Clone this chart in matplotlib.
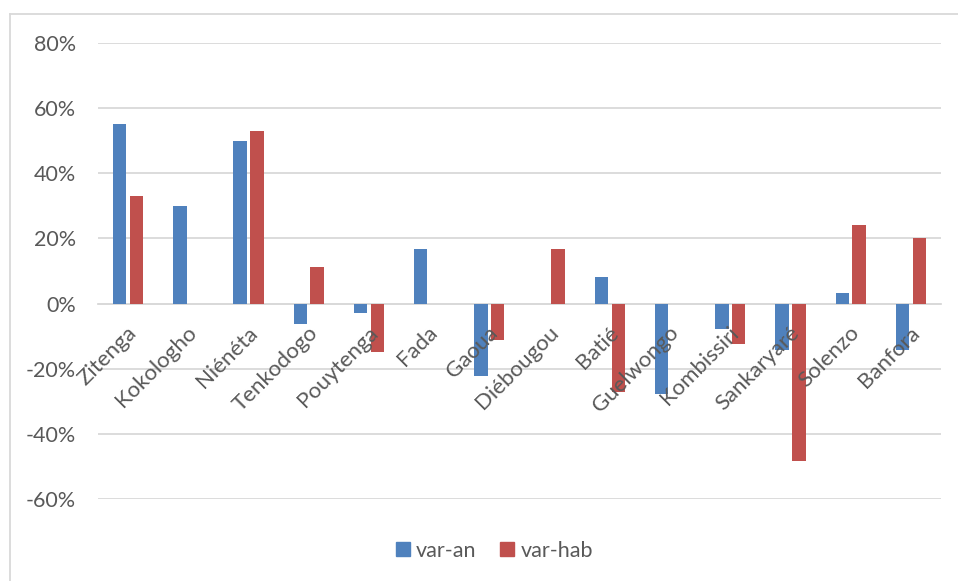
import numpy as np
import matplotlib
matplotlib.use('Agg')
import matplotlib.pyplot as plt
from matplotlib.ticker import FuncFormatter
from matplotlib.transforms import ScaledTranslation
from matplotlib.lines import Line2D
from matplotlib.patches import Patch

plt.rcParams['font.family'] = ['Lato', 'DejaVu Sans']

communes = ['Zitenga', 'Kokologho', 'Niénéta', 'Tenkodogo', 'Pouytenga', 'Fada',
            'Gaoua', 'Diébougou', 'Batié', 'Guelwongo', 'Kombissiri', 'Sankaryaré',
            'Solenzo', 'Banfora']
var_an = [0.55, 0.30, 0.50, -0.061, -0.029, 0.167, -0.221, 0.0, 0.081, -0.276,
          -0.079, -0.142, 0.033, -0.142]
var_hab = [0.33, 0.0, 0.529, 0.112, -0.149, 0.0, -0.112, 0.167, -0.272, 0.0,
           -0.124, -0.484, 0.24, 0.20]

blue, red = '#4f81bd', '#c0504d'
grey_txt = '#595959'
grid_c = '#d9d9d9'
fs = 15.5

fig = plt.figure(figsize=(9.58, 5.81), dpi=100)
ax = fig.add_axes([98/958, 1-499.3/581, (941-98)/958, (499.3-42.7)/581])

x = np.arange(len(communes))
w = 0.222
off = 0.139
ax.bar(x - off, var_an, w, color=blue, zorder=3)
ax.bar(x + off, var_hab, w, color=red, zorder=3)

ax.set_xlim(-0.5, len(communes) - 0.5)
ax.set_ylim(-0.6, 0.8)
ax.set_yticks(np.arange(-0.6, 0.81, 0.2))
ax.yaxis.set_major_formatter(FuncFormatter(lambda v, p: '%d%%' % round(v*100)))
ax.grid(axis='y', color=grid_c, linewidth=1.3, zorder=0)
ax.set_axisbelow(True)

for s in ['top', 'right', 'left']:
    ax.spines[s].set_visible(False)
ax.spines['bottom'].set_position(('data', 0))
ax.spines['bottom'].set_color(grid_c)
ax.spines['bottom'].set_linewidth(1.3)

ax.tick_params(axis='y', length=0, pad=15.8, labelsize=fs, labelcolor=grey_txt)
ax.set_xticks([])

# category names sit next to the zero line, drawn over the bars
lab_off = ScaledTranslation(-1.5/100, -19/100, fig.dpi_scale_trans)
for i, name in enumerate(communes):
    ax.text(i, 0, name, transform=ax.transData + lab_off, rotation=45,
            rotation_mode='anchor', ha='right', va='top', fontsize=16,
            color=grey_txt, zorder=5)

handles = [Patch(color=blue, label='var-an'), Patch(color=red, label='var-hab')]
fig.legend(handles=handles, loc='center', bbox_to_anchor=(494.5/958, 1-550.8/581),
           ncol=2, frameon=False, fontsize=fs, labelcolor=grey_txt,
           handlelength=0.65, handleheight=0.65, handletextpad=0.3,
           columnspacing=1.1)

# chart frame edges
fig.add_artist(Line2D([10.2/958, 10.2/958], [0, 1-13.5/581], color=grid_c,
                      linewidth=1.3, transform=fig.transFigure))
fig.add_artist(Line2D([10.2/958, 1], [1-13.5/581, 1-13.5/581], color=grid_c,
                      linewidth=1.3, transform=fig.transFigure))

fig.savefig('out.png', dpi=100)
